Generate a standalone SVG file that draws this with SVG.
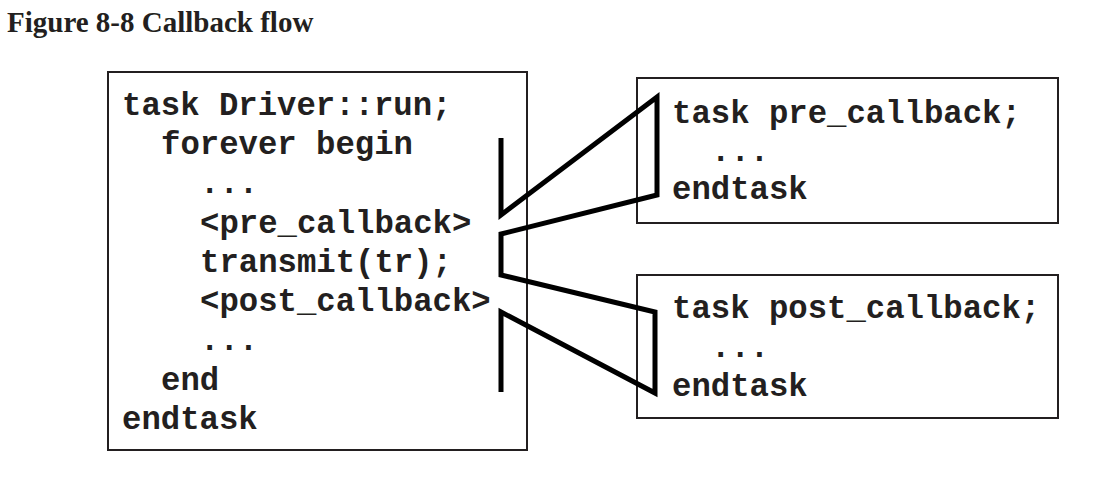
<svg xmlns="http://www.w3.org/2000/svg" width="1099" height="477" viewBox="0 0 1099 477">
<style>
.box{fill:#fff;stroke:#231f20;stroke-width:2}
.code{font-family:"Liberation Mono","Courier New",monospace;font-weight:bold;font-size:32.3px;fill:#231f20}
.title{font-family:"Liberation Serif","Times New Roman",serif;font-weight:bold;font-size:29px;fill:#231f20}
.flow{fill:none;stroke:#000;stroke-width:5;stroke-linejoin:miter;stroke-linecap:butt}
</style>
<rect width="1099" height="477" fill="#fff"/>
<text class="title" x="7" y="32">Figure 8-8 Callback flow</text>
<g id="driver">
<rect class="box" x="108" y="72" width="419" height="378"/>
<text class="code" x="122" y="115">task Driver::run;</text>
<text class="code" x="161" y="154">forever begin</text>
<text class="code" x="200" y="193">...</text>
<text class="code" x="200" y="233">&lt;pre_callback&gt;</text>
<text class="code" x="200" y="272">transmit(tr);</text>
<text class="code" x="200" y="311">&lt;post_callback&gt;</text>
<text class="code" x="200" y="350">...</text>
<text class="code" x="161" y="390">end</text>
<text class="code" x="122" y="429">endtask</text>
</g>
<g id="pre_callback">
<rect class="box" x="637" y="78" width="421" height="145"/>
<text class="code" x="672" y="123">task pre_callback;</text>
<text class="code" x="711" y="161">...</text>
<text class="code" x="672" y="199">endtask</text>
</g>
<g id="post_callback">
<rect class="box" x="637" y="275" width="421" height="143"/>
<text class="code" x="672" y="318">task post_callback;</text>
<text class="code" x="711" y="357">...</text>
<text class="code" x="672" y="396">endtask</text>
</g>
<g id="connectors">
<path class="flow" d="M501 138 L501 215 L657 97 L657 195 L501 234 L501 275 L655 312 L655 393 L501 312 L501 392"/>
</g>
</svg>
